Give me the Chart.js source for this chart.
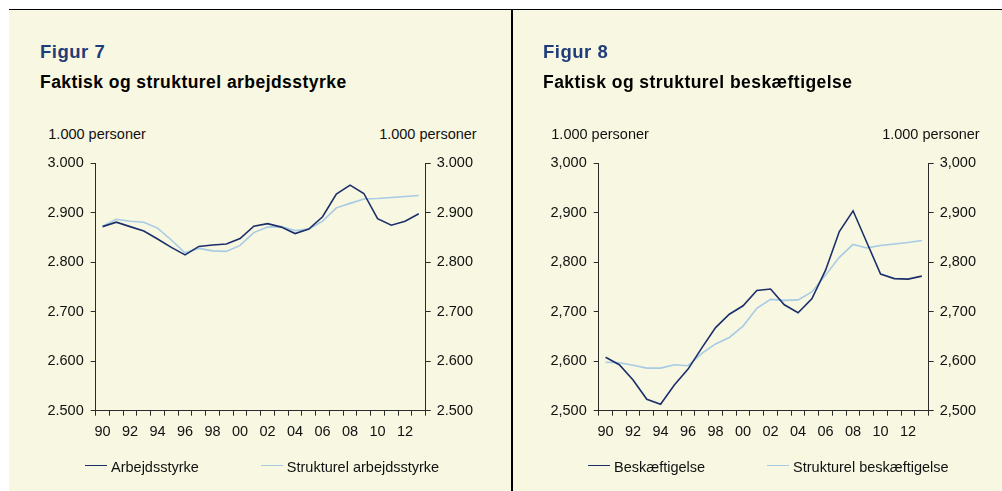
<!DOCTYPE html>
<html><head><meta charset="utf-8">
<script src="https://cdn.jsdelivr.net/npm/chart.js@4.4.0/dist/chart.umd.min.js"></script>
<style>
html,body{margin:0;padding:0;background:#fff;width:1002px;height:491px;overflow:hidden;font-family:'Liberation Sans',Arial,Helvetica,sans-serif;}
.bg{position:absolute;left:9px;top:10px;width:993px;height:481px;background:#F8F7E1;}
.topline{position:absolute;left:9px;top:8.5px;width:993px;height:1.5px;background:#000;}
.divider{position:absolute;left:511px;top:9px;width:1.5px;height:482px;background:#000;}
.panel{position:absolute;top:0;height:491px;}
.fig{position:absolute;left:40px;top:42.6px;font-size:18.5px;font-weight:bold;color:#1F3C7A;line-height:1;white-space:nowrap;letter-spacing:0.5px;}
.sub{position:absolute;left:40px;top:73.5px;font-size:17.5px;font-weight:bold;color:#000;line-height:1;white-space:nowrap;letter-spacing:0.45px;}
.unit{position:absolute;top:126.7px;font-size:14.5px;line-height:1;color:#111;white-space:nowrap;}
.unitL{left:48.3px;}
.unitR{left:476.7px;transform:translateX(-100%);}
.cv{position:absolute;left:0;top:140px;}
.legend{position:absolute;left:85px;top:460px;font-size:14.5px;line-height:1;color:#111;white-space:nowrap;}
.item{display:inline-block;position:relative;padding-left:26px;}
.item.first{margin-right:62px;}
.item .ln{position:absolute;left:0;top:4.8px;width:22px;height:0;border-top:1.6px solid #000;}
</style>
</head>
<body>
<div class="bg"></div>
<div class="topline"></div>
<div class="divider"></div>

<div class="panel" id="p1" style="left:0;width:512px;">
  <div class="fig">Figur 7</div>
  <div class="sub">Faktisk og strukturel arbejdsstyrke</div>
  <div class="unit unitL">1.000 personer</div>
  <div class="unit unitR">1.000 personer</div>
  <canvas class="cv" id="c1" width="512" height="351"></canvas>
  <div class="legend" id="l1"></div>
</div>

<div class="panel" id="p2" style="left:503px;width:499px;">
  <div class="fig">Figur 8</div>
  <div class="sub">Faktisk og strukturel beskæftigelse</div>
  <div class="unit unitL">1.000 personer</div>
  <div class="unit unitR">1.000 personer</div>
  <canvas class="cv" id="c2" width="499" height="351"></canvas>
  <div class="legend" id="l2"></div>
</div>

<script>
// ---- data ----
const categories = ['90','91','92','93','94','95','96','97','98','99','00','01','02','03','04','05','06','07','08','09','10','11','12','13'];

const arbejdsstyrke = [2872,2881,2872,2863,2847,2830,2815,2832,2835,2837,2848,2873,2878,2871,2858,2867,2892,2938,2956,2939,2888,2875,2883,2898];
const strukturelArbejdsstyrke = [2873,2887,2883,2881,2869,2845,2819,2828,2823,2822,2834,2860,2871,2872,2864,2867,2883,2910,2919,2928,2929,2931,2933,2935];

const beskaeftigelse = [2608,2593,2562,2523,2513,2552,2584,2627,2668,2695,2712,2743,2746,2714,2698,2726,2784,2862,2904,2840,2776,2767,2766,2772];
const strukturelBeskaeftigelse = [2598,2597,2592,2586,2586,2593,2591,2616,2635,2648,2671,2707,2725,2723,2724,2740,2774,2810,2836,2829,2834,2837,2840,2844];

const yTicksMin = 2500, yTicksMax = 3000, yStep = 100;

// ---- style ----
const DARK = '#1B2F6B';
const LIGHT = '#A7CBE4';
const AX = '#2b2b2b';
const TXT = '#111';
const FONT = {family:"'Liberation Sans', Arial, Helvetica, sans-serif", size:14.5};

const PLOT_LEFT = 95.7, PLOT_RIGHT = 425.7, PLOT_TOP = 23.3, PLOT_BOTTOM = 270.7, XH = 32;

function makeChart(id, legendId, seriesA, seriesS, labelA, labelS, fmt) {
  const canvas = document.getElementById(id);
  const W = canvas.width, H = canvas.height;
  const yCommon = (pos, w) => ({
    position: pos, min: yTicksMin, max: yTicksMax,
    ticks: {stepSize: yStep, callback: fmt, padding: pos === 'left' ? 7 : 6, font: FONT, color: TXT},
    grid: {drawOnChartArea: false, drawTicks: true, tickLength: 5, color: AX, lineWidth: 1},
    border: {display: true, color: AX, width: 1},
    afterFit: s => { s.width = w; }
  });
  const chart = new Chart(canvas, {
    type: 'line',
    data: {
      labels: categories,
      datasets: [
        {label: labelA, data: seriesA, borderColor: DARK, backgroundColor: DARK, borderWidth: 1.6, pointRadius: 0, tension: 0, fill: false, yAxisID: 'y'},
        {label: labelS, data: seriesS, borderColor: LIGHT, backgroundColor: LIGHT, borderWidth: 1.6, pointRadius: 0, tension: 0, fill: false, yAxisID: 'y'}
      ]
    },
    options: {
      responsive: false, animation: false, events: [],
      layout: {padding: {left: 0, right: 0, top: PLOT_TOP, bottom: H - PLOT_BOTTOM - XH}},
      plugins: {legend: {display: false}, tooltip: {enabled: false}, title: {display: false}},
      scales: {
        x: {
          type: 'category', offset: true,
          grid: {offset: true, drawOnChartArea: false, drawTicks: true, tickLength: 5, color: AX, lineWidth: 1},
          border: {display: true, color: AX, width: 1},
          ticks: {autoSkip: false, maxRotation: 0, minRotation: 0, padding: 8, font: FONT, color: TXT,
                  callback: (v, i) => (i % 2 === 0 ? categories[i] : '')},
          afterFit: s => { s.height = XH; }
        },
        y: yCommon('left', PLOT_LEFT),
        y2: yCommon('right', W - PLOT_RIGHT)
      }
    }
  });
  // HTML legend built from the chart's datasets
  const lg = document.getElementById(legendId);
  chart.data.datasets.forEach((ds, i) => {
    const it = document.createElement('span');
    it.className = 'item' + (i === 0 ? ' first' : '');
    const ln = document.createElement('span');
    ln.className = 'ln';
    ln.style.borderTopColor = ds.borderColor;
    it.appendChild(ln);
    it.appendChild(document.createTextNode(ds.label));
    lg.appendChild(it);
  });
  return chart;
}

const fmtDot = v => (v / 1000).toFixed(3);
const fmtComma = v => (v / 1000).toFixed(3).replace('.', ',');

makeChart('c1', 'l1', arbejdsstyrke, strukturelArbejdsstyrke, 'Arbejdsstyrke', 'Strukturel arbejdsstyrke', fmtDot);
makeChart('c2', 'l2', beskaeftigelse, strukturelBeskaeftigelse, 'Beskæftigelse', 'Strukturel beskæftigelse', fmtComma);
</script>
</body></html>
